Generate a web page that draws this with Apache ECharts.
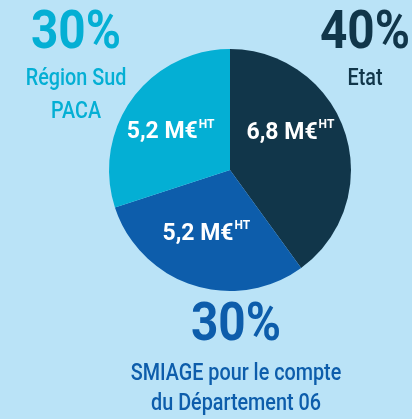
<!doctype html>
<html>
    <head>
        <meta charset="utf-8">
        <title>Financement</title>
        <style>
            html, body { margin: 0; padding: 0; background: #bae3f7; }
            #main { width: 412px; height: 419px; }
        </style>
    </head>
    <body>
        <div id="main"></div>
        <script src="https://cdn.jsdelivr.net/npm/echarts@6/dist/echarts.min.js"></script>
        <script>
            // data
            var names = ['Etat', 'SMIAGE pour le compte\ndu Département 06', 'Région Sud\nPACA'];
            var shares = [40, 30, 30];
            var amounts = ['6,8', '5,2', '5,2'];

            var colors = ['#11364a', '#0d5dab', '#04afd4'];
            var FONT = 'Roboto, sans-serif';

            // where the big percentage + name sit, per slice
            var outer = [
                { x: 365, y: 35, ny: 64, lh: 31 },
                { x: 236, y: 327, ny: 359, lh: 30 },
                { x: 76, y: 35, ny: 63, lh: 33 }
            ];
            var inOffset = [[0, -17], [-4, 4], [-8, 0]];

            var chart = echarts.init(document.getElementById('main'));

            var graphics = [];
            names.forEach(function (n, i) {
                graphics.push({
                    type: 'text',
                    x: outer[i].x,
                    y: outer[i].y,
                    scaleX: 0.9,
                    style: {
                        text: shares[i] + '%',
                        fill: colors[i],
                        font: 'bold 53px ' + FONT,
                        textAlign: 'center',
                        textVerticalAlign: 'middle'
                    }
                });
                graphics.push({
                    type: 'text',
                    x: outer[i].x,
                    y: outer[i].ny,
                    scaleX: 0.86,
                    style: {
                        text: n,
                        fill: colors[i],
                        font: '500 23px ' + FONT,
                        lineHeight: outer[i].lh,
                        textAlign: 'center',
                        textVerticalAlign: 'top'
                    }
                });
            });

            chart.setOption({
                backgroundColor: '#bae3f7',
                animation: false,
                graphic: graphics,
                series: [{
                    type: 'pie',
                    center: [230, 170],
                    radius: 121,
                    startAngle: 90,
                    clockwise: true,
                    silent: true,
                    itemStyle: { borderWidth: 0 },
                    label: {
                        show: true,
                        position: 'inside',
                        formatter: function (p) {
                            return '{a|' + amounts[p.dataIndex] + ' M€}{s|HT}';
                        },
                        rich: {
                            a: {
                                color: '#fff',
                                fontFamily: FONT,
                                fontWeight: 'bold',
                                fontSize: 23,
                                lineHeight: 28
                            },
                            s: {
                                color: '#fff',
                                fontFamily: FONT,
                                fontWeight: 'bold',
                                fontSize: 12,
                                verticalAlign: 'top',
                                lineHeight: 28,
                                padding: [0, 0, 10, 1]
                            }
                        }
                    },
                    labelLine: { show: false },
                    data: names.map(function (n, i) {
                        return {
                            name: n,
                            value: shares[i],
                            itemStyle: { color: colors[i] },
                            label: { offset: inOffset[i] }
                        };
                    })
                }]
            });
        </script>
    </body>
</html>
